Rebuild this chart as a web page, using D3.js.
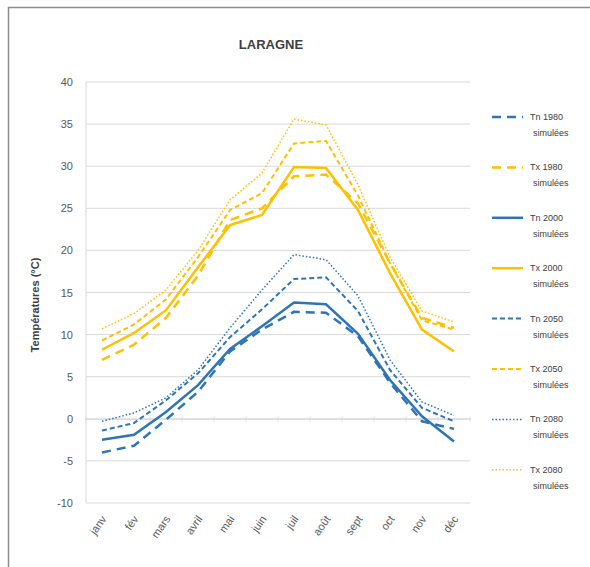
<!DOCTYPE html>
<html><head><meta charset="utf-8">
<script src="https://cdn.jsdelivr.net/npm/d3@7"></script>
<style>body{margin:0;background:#fff;}svg{display:block;font-family:"Liberation Sans","Open Sans",sans-serif;}</style>
</head><body><svg id="c" width="590" height="567"></svg>
<script>
const months = ["janv","fév","mars","avril","mai","juin","juil","août","sept","oct","nov","déc"];
const yTicks = [-10,-5,0,5,10,15,20,25,30,35,40];
const tn1980 = [-4.0,-3.2,-0.1,3.2,8.0,10.6,12.7,12.6,9.8,4.3,-0.3,-1.2];
const tx1980 = [7.0,8.8,12.0,17.0,23.6,25.0,28.8,29.0,25.6,18.5,12.0,10.8];
const tn2000 = [-2.5,-1.9,0.8,4.0,8.3,11.0,13.8,13.6,10.1,4.6,0.3,-2.7];
const tx2000 = [8.2,10.2,12.9,18.0,23.0,24.2,29.9,29.8,24.8,17.3,10.6,8.0];
const tn2050 = [-1.4,-0.5,2.2,5.4,9.7,13.0,16.6,16.8,12.8,5.8,1.3,-0.3];
const tx2050 = [9.3,11.2,14.2,19.2,24.8,26.8,32.7,33.0,26.5,18.5,11.7,10.6];
const tn2080 = [-0.3,0.7,2.5,5.8,10.8,15.3,19.5,18.9,14.6,7.0,2.0,0.4];
const tx2080 = [10.7,12.5,15.3,20.0,26.0,29.2,35.6,34.9,27.8,19.2,12.8,11.5];
const seriesNames = ["Tn 1980","Tx 1980","Tn 2000","Tx 2000","Tn 2050","Tx 2050","Tn 2080","Tx 2080"];

const blue = "#2e75b6", gold = "#ffc000";
const series = [
  {name:seriesNames[0], v:tn1980, c:blue, dash:"9,6", w:2.5},
  {name:seriesNames[1], v:tx1980, c:gold, dash:"9,6", w:2.5},
  {name:seriesNames[2], v:tn2000, c:blue, dash:null, w:2.5},
  {name:seriesNames[3], v:tx2000, c:gold, dash:null, w:2.5},
  {name:seriesNames[4], v:tn2050, c:blue, dash:"5,3", w:2},
  {name:seriesNames[5], v:tx2050, c:gold, dash:"5,3", w:2},
  {name:seriesNames[6], v:tn2080, c:blue, dash:"1.5,2", w:1.5},
  {name:seriesNames[7], v:tx2080, c:gold, dash:"1.5,2", w:1.5}
];

const svg = d3.select("#c");
svg.append("rect").attr("x",8.5).attr("y",7.5).attr("width",600).attr("height",600)
  .attr("fill","#fff").attr("stroke","#8c8c8c").attr("stroke-width",1.5);

const pL=86, pR=470, pT=82, pB=503;
const x = d3.scaleBand().domain(months).range([pL,pR]);
const y = d3.scaleLinear().domain([-10,40]).range([pB,pT]);

svg.append("g").selectAll("line").data(yTicks).join("line")
  .attr("x1",pL).attr("x2",pR).attr("y1",d=>y(d)).attr("y2",d=>y(d))
  .attr("stroke","#d9d9d9").attr("stroke-width",1);
svg.append("line").attr("x1",pL).attr("x2",pL).attr("y1",pT).attr("y2",pB)
  .attr("stroke","#d9d9d9");

const ya = svg.append("g").attr("transform",`translate(${pL},0)`)
  .call(d3.axisLeft(y).tickValues(yTicks).tickFormat(d=>String(d)).tickSize(0).tickPadding(13));
ya.select(".domain").remove();
ya.selectAll("text").attr("fill","#595959").style("font-size","11px");

const xa = svg.append("g").attr("transform",`translate(0,${y(0)})`)
  .call(d3.axisBottom(x).tickSize(0).tickFormat(""));
xa.select(".domain").attr("stroke","#d9d9d9");
svg.append("g").selectAll("line").data(d3.range(13)).join("line")
  .attr("x1",i=>pL+i*x.step()).attr("x2",i=>pL+i*x.step())
  .attr("y1",y(0)-2).attr("y2",y(0)+3).attr("stroke","#d9d9d9");

svg.append("g").selectAll("text").data(months).join("text")
  .attr("transform",d=>`translate(${x(d)+x.bandwidth()/2+5},${pB+16}) rotate(-55)`)
  .attr("text-anchor","end").attr("fill","#595959").style("font-size","11px").text(d=>d);

const line = d3.line().x((d,i)=>x(months[i])+x.bandwidth()/2).y(d=>y(d));
svg.append("g").selectAll("path").data(series).join("path")
  .attr("d",d=>line(d.v)).attr("fill","none").attr("stroke",d=>d.c)
  .attr("stroke-width",d=>d.w).attr("stroke-dasharray",d=>d.dash);

svg.append("text").attr("x",271).attr("y",49).attr("text-anchor","middle")
  .style("font-size","13px").style("font-weight","bold").attr("fill","#404040").text("LARAGNE");

svg.append("text").attr("transform","translate(39,305) rotate(-90)").attr("text-anchor","middle")
  .style("font-size","11px").style("font-weight","bold").attr("fill","#404040").text("Températures (°C)");

const lg = svg.append("g").selectAll("g").data(series).join("g")
  .attr("transform",(d,i)=>`translate(492,${117+i*50.4})`);
lg.append("line").attr("x1",0).attr("x2",31).attr("y1",0).attr("y2",0)
  .attr("stroke",d=>d.c).attr("stroke-width",d=>d.w).attr("stroke-dasharray",d=>d.dash);
lg.append("text").attr("x",38).attr("y",3).style("font-size","9px").attr("fill","#404040").text(d=>d.name);
lg.append("text").attr("x",41).attr("y",19).style("font-size","9px").attr("fill","#404040").text("simulées");
</script></body></html>
